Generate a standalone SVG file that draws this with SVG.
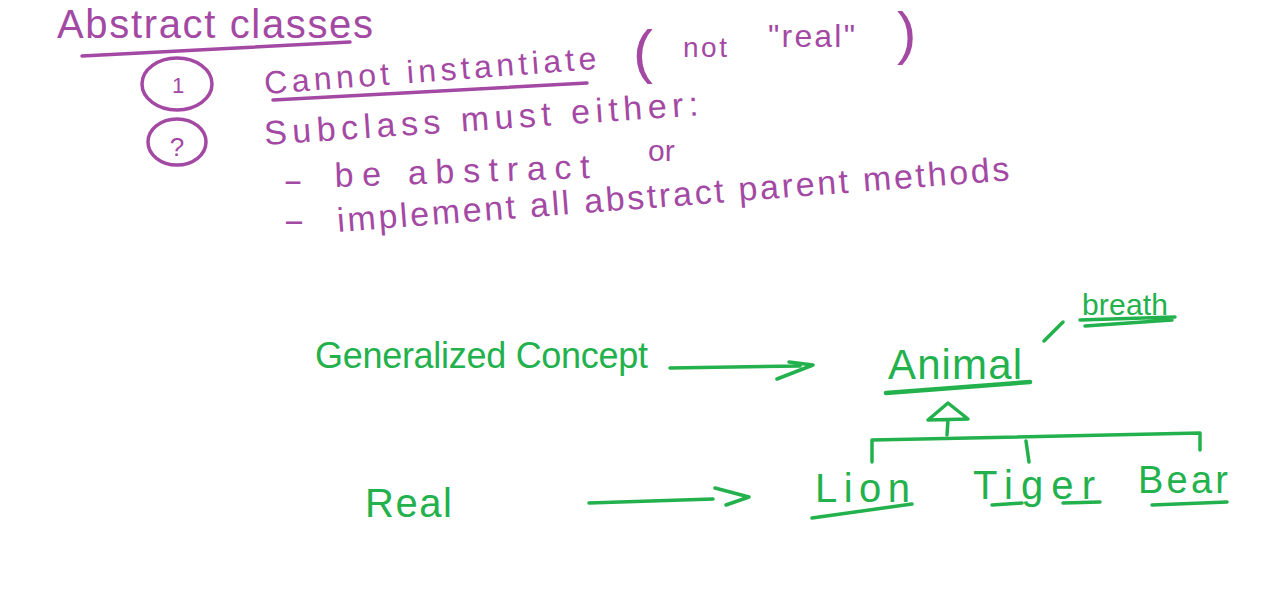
<svg xmlns="http://www.w3.org/2000/svg" width="1268" height="590" viewBox="0 0 1268 590">
<style>
.p{fill:#A349A4;font-family:"Liberation Sans","DejaVu Sans",sans-serif}
.g{fill:#22B14C;font-family:"Liberation Sans","DejaVu Sans",sans-serif}
.ps{fill:none;stroke:#A349A4;stroke-width:3.5;stroke-linecap:round;stroke-linejoin:round}
.gs{fill:none;stroke:#22B14C;stroke-width:3.5;stroke-linecap:round;stroke-linejoin:round}
.gs2{fill:none;stroke:#22B14C;stroke-width:4.5;stroke-linecap:round;stroke-linejoin:round}
</style>
<rect width="1268" height="590" fill="#ffffff"/>
<g id="notes">
<text class="p" x="57" y="38" font-size="40" textLength="316" lengthAdjust="spacing">Abstract classes</text>
<path class="ps" d="M82 56 L350 42"/>
<ellipse class="ps" cx="177" cy="84" rx="35" ry="26"/>
<text class="p" x="178" y="93" font-size="22" text-anchor="middle">1</text>
<text class="p" x="265" y="94" font-size="32" textLength="333" lengthAdjust="spacing" transform="rotate(-4.3 265 94)">Cannot instantiate</text>
<path class="ps" d="M273 100 L587 83"/>
<text class="p" x="633" y="72" font-size="60">(</text>
<text class="p" x="683" y="57" font-size="28" textLength="44" lengthAdjust="spacing">not</text>
<text class="p" x="768" y="47" font-size="32" textLength="87" lengthAdjust="spacing">"real"</text>
<text class="p" x="897" y="53" font-size="58">)</text>
<ellipse class="ps" cx="177" cy="142" rx="29" ry="23"/>
<text class="p" x="177" y="156" font-size="26" text-anchor="middle">?</text>
<text class="p" x="265" y="145" font-size="34" textLength="435" lengthAdjust="spacing" transform="rotate(-3.9 265 145)">Subclass must either:</text>
<text class="p" x="283" y="192" font-size="34" textLength="20" lengthAdjust="spacingAndGlyphs">-</text>
<text class="p" x="335" y="187" font-size="34" textLength="255" lengthAdjust="spacing" transform="rotate(-2 335 187)">be abstract</text>
<text class="p" x="648" y="161" font-size="30">or</text>
<text class="p" x="283" y="232" font-size="34" textLength="22" lengthAdjust="spacingAndGlyphs">-</text>
<text class="p" x="338" y="232" font-size="34" textLength="674" lengthAdjust="spacing" transform="rotate(-4.4 338 232)">implement all abstract parent methods</text>
</g>
<g id="generalized-concept">
<text class="g" x="315" y="368" font-size="36" textLength="333" lengthAdjust="spacing">Generalized Concept</text>
</g>
<g id="real">
<text class="g" x="365" y="517" font-size="40" textLength="87" lengthAdjust="spacing">Real</text>
</g>
<g id="animal">
<text class="g" x="888" y="379" font-size="42" textLength="134" lengthAdjust="spacing">Animal</text>
<path class="gs2" d="M886 393 L1030 382"/>
</g>
<g id="breath">
<text class="g" x="1082" y="315" font-size="30" textLength="86" lengthAdjust="spacing">breath</text>
<path class="gs" d="M1080 320 L1175 317 M1085 326 L1172 320"/>
</g>
<g id="lion">
<text class="g" x="815" y="502" font-size="40" textLength="95" lengthAdjust="spacing">Lion</text>
<path class="gs" d="M812 518 L912 504"/>
</g>
<g id="tiger">
<text class="g" x="973" y="499" font-size="40" textLength="122" lengthAdjust="spacing">Tiger</text>
<path class="gs" d="M992 505 L1022 503 M1063 503 L1100 502"/>
</g>
<g id="bear">
<text class="g" x="1138" y="493" font-size="38" textLength="90" lengthAdjust="spacing">Bear</text>
<path class="gs" d="M1152 505 L1227 502"/>
</g>
<g id="connectors">
<path class="gs" d="M670 368 L800 366 M789 362 L813 365 L777 379"/>
<path class="gs" d="M589 503 L713 499 M715 488 L749 497 L726 505"/>
<path class="gs" d="M1044 341 L1063 322"/>
<path class="gs" d="M948 420 L947 435 M928 420 L948 403 L968 419 Z"/>
<path class="gs" d="M872 462 L872 440 L1200 433 L1200 450 M1026 441 L1029 462"/>
</g>
</svg>
